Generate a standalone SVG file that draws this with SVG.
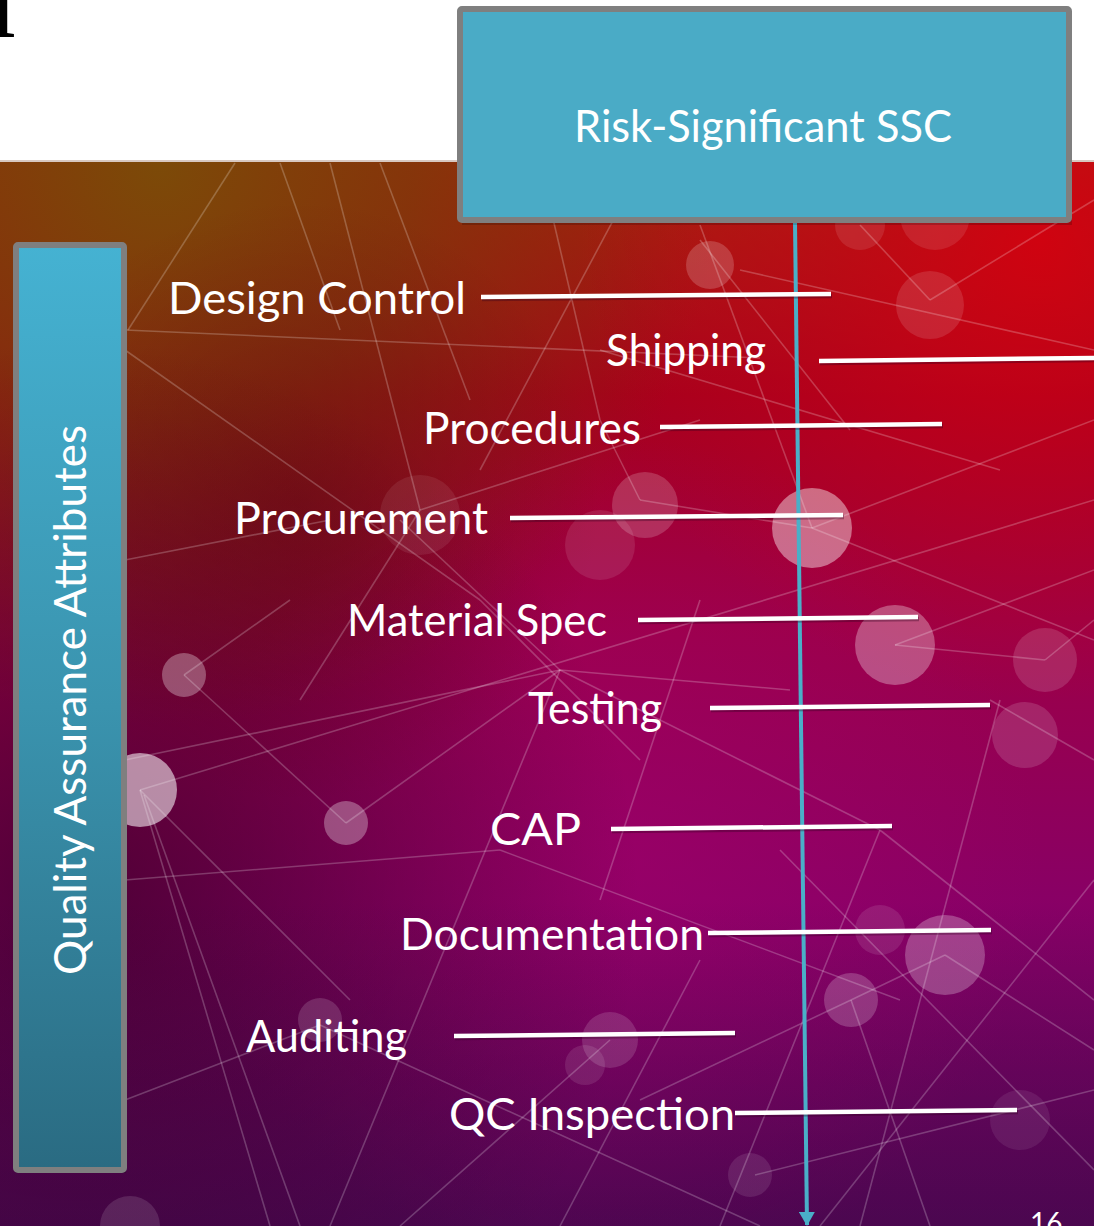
<svg xmlns="http://www.w3.org/2000/svg" width="1094" height="1226" viewBox="0 0 1094 1226">
  <defs>
    <linearGradient id="bgBase" x1="0" y1="161" x2="0" y2="1226" gradientUnits="userSpaceOnUse">
      <stop offset="0" stop-color="#a8280a"/>
      <stop offset="0.22" stop-color="#a8001c"/>
      <stop offset="0.45" stop-color="#9c0048"/>
      <stop offset="0.7" stop-color="#880066"/>
      <stop offset="1" stop-color="#5a0a5c"/>
    </linearGradient>
    <radialGradient id="glowBrown" cx="160" cy="165" r="560" gradientUnits="userSpaceOnUse">
      <stop offset="0" stop-color="#7c4a08" stop-opacity="1"/>
      <stop offset="0.45" stop-color="#7a3a0a" stop-opacity="0.75"/>
      <stop offset="1" stop-color="#7a2a0a" stop-opacity="0"/>
    </radialGradient>
    <radialGradient id="glowRed" cx="1040" cy="240" r="460" gradientUnits="userSpaceOnUse">
      <stop offset="0" stop-color="#d40010" stop-opacity="0.9"/>
      <stop offset="1" stop-color="#c00020" stop-opacity="0"/>
    </radialGradient>
    <radialGradient id="leftDark" cx="80" cy="900" r="560" gradientUnits="userSpaceOnUse">
      <stop offset="0" stop-color="#2a0018" stop-opacity="0.6"/>
      <stop offset="1" stop-color="#2a0018" stop-opacity="0"/>
    </radialGradient>
    <radialGradient id="midDark" cx="300" cy="500" r="300" gradientUnits="userSpaceOnUse">
      <stop offset="0" stop-color="#600010" stop-opacity="0.45"/>
      <stop offset="1" stop-color="#600010" stop-opacity="0"/>
    </radialGradient>
    <radialGradient id="glowMag" cx="620" cy="860" r="420" gradientUnits="userSpaceOnUse">
      <stop offset="0" stop-color="#a0006c" stop-opacity="0.55"/>
      <stop offset="1" stop-color="#a0006c" stop-opacity="0"/>
    </radialGradient>
    <linearGradient id="bottomDark" x1="0" y1="900" x2="0" y2="1226" gradientUnits="userSpaceOnUse">
      <stop offset="0" stop-color="#30003a" stop-opacity="0"/>
      <stop offset="1" stop-color="#30003a" stop-opacity="0.35"/>
    </linearGradient>
    <linearGradient id="sideBox" x1="0" y1="245" x2="0" y2="1170" gradientUnits="userSpaceOnUse">
      <stop offset="0" stop-color="#45b2d2"/>
      <stop offset="0.5" stop-color="#3a93ae"/>
      <stop offset="1" stop-color="#2a6b82"/>
    </linearGradient>
    <marker id="arrow" viewBox="0 0 14 16" refX="13" refY="8" markerWidth="14" markerHeight="16" markerUnits="userSpaceOnUse" orient="auto">
      <path d="M0,0 L14,8 L0,16 Z" fill="#4aafc8"/>
    </marker>
    <style>
      .lbl { font-family: Lato, "Open Sans", "Liberation Sans", sans-serif; font-size: 44px; fill: #ffffff; }
      .net line { stroke: #ffffff; stroke-opacity: 0.22; stroke-width: 1.6; }
      .net circle { fill: #ffffff; }
      .bar { stroke: #ffffff; stroke-width: 4.5; stroke-linecap: butt; }
      .barShadow { stroke: #300020; stroke-opacity: 0.35; stroke-width: 4.5; }
      .boxStroke { stroke: #7f7f7f; stroke-width: 6; }
    </style>
  </defs>

  <!-- page -->
  <rect x="0" y="0" width="1094" height="1226" fill="#ffffff"/>
  <text x="1" y="37" text-anchor="middle" font-family="'Liberation Serif', serif" font-weight="bold" font-size="80" fill="#000000">I</text>

  <!-- slide background -->
  <g id="background">
    <rect x="0" y="161" width="1094" height="1065" fill="url(#bgBase)"/>
    <rect x="0" y="161" width="1094" height="1065" fill="url(#glowBrown)"/>
    <rect x="0" y="161" width="1094" height="1065" fill="url(#glowRed)"/>
    <rect x="0" y="161" width="1094" height="1065" fill="url(#glowMag)"/>
    <rect x="0" y="161" width="1094" height="1065" fill="url(#midDark)"/>
    <rect x="0" y="161" width="1094" height="1065" fill="url(#leftDark)"/>
    <rect x="0" y="161" width="1094" height="1065" fill="url(#bottomDark)"/>
    <line x1="0" y1="161" x2="1094" y2="161" stroke="#d8c8c0" stroke-width="2"/>
    <g class="net">
      <line x1="125" y1="330" x2="760" y2="358"/>
      <line x1="125" y1="350" x2="480" y2="600"/>
      <line x1="480" y1="600" x2="640" y2="760"/>
      <line x1="235" y1="163" x2="128" y2="330"/>
      <line x1="280" y1="163" x2="340" y2="330"/>
      <line x1="330" y1="163" x2="420" y2="510"/>
      <line x1="420" y1="510" x2="700" y2="420"/>
      <line x1="420" y1="510" x2="300" y2="700"/>
      <line x1="540" y1="163" x2="600" y2="420"/>
      <line x1="600" y1="420" x2="640" y2="500"/>
      <line x1="640" y1="500" x2="812" y2="528"/>
      <line x1="812" y1="528" x2="1094" y2="420"/>
      <line x1="812" y1="528" x2="1094" y2="640"/>
      <line x1="812" y1="528" x2="700" y2="225"/>
      <line x1="700" y1="240" x2="850" y2="430"/>
      <line x1="930" y1="300" x2="1094" y2="200"/>
      <line x1="930" y1="300" x2="860" y2="225"/>
      <line x1="600" y1="350" x2="1000" y2="470"/>
      <line x1="140" y1="790" x2="1094" y2="500"/>
      <line x1="140" y1="790" x2="270" y2="1226"/>
      <line x1="144" y1="795" x2="300" y2="1226"/>
      <line x1="140" y1="790" x2="350" y2="1000"/>
      <line x1="184" y1="675" x2="290" y2="600"/>
      <line x1="184" y1="675" x2="346" y2="823"/>
      <line x1="346" y1="823" x2="560" y2="670"/>
      <line x1="560" y1="670" x2="790" y2="690"/>
      <line x1="560" y1="670" x2="400" y2="520"/>
      <line x1="560" y1="670" x2="880" y2="830"/>
      <line x1="560" y1="670" x2="330" y2="1226"/>
      <line x1="125" y1="760" x2="560" y2="670"/>
      <line x1="880" y1="830" x2="1094" y2="1000"/>
      <line x1="880" y1="830" x2="720" y2="1226"/>
      <line x1="895" y1="645" x2="1094" y2="570"/>
      <line x1="895" y1="645" x2="1045" y2="660"/>
      <line x1="1045" y1="660" x2="1094" y2="620"/>
      <line x1="945" y1="955" x2="1094" y2="1050"/>
      <line x1="945" y1="955" x2="851" y2="1000"/>
      <line x1="851" y1="1000" x2="930" y2="1226"/>
      <line x1="851" y1="1000" x2="640" y2="1100"/>
      <line x1="610" y1="1040" x2="400" y2="1226"/>
      <line x1="320" y1="1025" x2="125" y2="1100"/>
      <line x1="320" y1="1025" x2="760" y2="1226"/>
      <line x1="755" y1="1175" x2="1094" y2="1090"/>
      <line x1="500" y1="850" x2="900" y2="1000"/>
      <line x1="125" y1="880" x2="500" y2="850"/>
      <line x1="740" y1="270" x2="1094" y2="350"/>
      <line x1="640" y1="170" x2="480" y2="470"/>
      <line x1="1000" y1="700" x2="860" y2="1226"/>
      <line x1="990" y1="700" x2="1094" y2="760"/>
      <line x1="780" y1="850" x2="1094" y2="1170"/>
      <line x1="380" y1="163" x2="470" y2="400"/>
      <line x1="700" y1="600" x2="600" y2="900"/>
      <line x1="1094" y1="880" x2="820" y2="1226"/>
      <line x1="560" y1="1226" x2="700" y2="960"/>
      <line x1="125" y1="560" x2="330" y2="520"/>
      <circle cx="812" cy="528" r="40" fill-opacity="0.42"/>
      <circle cx="140" cy="790" r="37" fill-opacity="0.55"/>
      <circle cx="184" cy="675" r="22" fill-opacity="0.3"/>
      <circle cx="346" cy="823" r="22" fill-opacity="0.3"/>
      <circle cx="895" cy="645" r="40" fill-opacity="0.3"/>
      <circle cx="930" cy="305" r="34" fill-opacity="0.12"/>
      <circle cx="710" cy="265" r="24" fill-opacity="0.18"/>
      <circle cx="645" cy="505" r="33" fill-opacity="0.18"/>
      <circle cx="600" cy="545" r="35" fill-opacity="0.1"/>
      <circle cx="420" cy="515" r="40" fill-opacity="0.08"/>
      <circle cx="1045" cy="660" r="32" fill-opacity="0.14"/>
      <circle cx="1025" cy="735" r="33" fill-opacity="0.14"/>
      <circle cx="945" cy="955" r="40" fill-opacity="0.25"/>
      <circle cx="851" cy="1000" r="27" fill-opacity="0.2"/>
      <circle cx="320" cy="1020" r="22" fill-opacity="0.15"/>
      <circle cx="610" cy="1040" r="28" fill-opacity="0.14"/>
      <circle cx="130" cy="1226" r="30" fill-opacity="0.12"/>
      <circle cx="750" cy="1175" r="22" fill-opacity="0.1"/>
      <circle cx="880" cy="930" r="25" fill-opacity="0.1"/>
      <circle cx="1020" cy="1120" r="30" fill-opacity="0.08"/>
      <circle cx="935" cy="215" r="35" fill-opacity="0.1"/>
      <circle cx="860" cy="225" r="25" fill-opacity="0.1"/>
      <circle cx="585" cy="1065" r="20" fill-opacity="0.1"/>
    </g>
  </g>

  <!-- connectors -->
  <g id="connectors">
    <line x1="795" y1="223" x2="807" y2="1225" stroke="#4aafc8" stroke-width="4" marker-end="url(#arrow)"/>
    <g class="barShadows" transform="translate(1,2)">
      <line class="barShadow" x1="481" y1="297" x2="831" y2="294"/>
      <line class="barShadow" x1="819" y1="361" x2="1094" y2="358"/>
      <line class="barShadow" x1="660" y1="427" x2="942" y2="424"/>
      <line class="barShadow" x1="510" y1="518" x2="843" y2="515"/>
      <line class="barShadow" x1="638" y1="620" x2="918" y2="617"/>
      <line class="barShadow" x1="710" y1="708" x2="990" y2="705"/>
      <line class="barShadow" x1="611" y1="829" x2="892" y2="826"/>
      <line class="barShadow" x1="708" y1="933" x2="991" y2="930"/>
      <line class="barShadow" x1="454" y1="1036" x2="735" y2="1033"/>
      <line class="barShadow" x1="735" y1="1113" x2="1017" y2="1110"/>
    </g>
    <line id="c-design" class="bar" x1="481" y1="297" x2="831" y2="294"/>
    <line id="c-shipping" class="bar" x1="819" y1="361" x2="1094" y2="358"/>
    <line id="c-procedures" class="bar" x1="660" y1="427" x2="942" y2="424"/>
    <line id="c-procurement" class="bar" x1="510" y1="518" x2="843" y2="515"/>
    <line id="c-material" class="bar" x1="638" y1="620" x2="918" y2="617"/>
    <line id="c-testing" class="bar" x1="710" y1="708" x2="990" y2="705"/>
    <line id="c-cap" class="bar" x1="611" y1="829" x2="892" y2="826"/>
    <line id="c-documentation" class="bar" x1="708" y1="933" x2="991" y2="930"/>
    <line id="c-auditing" class="bar" x1="454" y1="1036" x2="735" y2="1033"/>
    <line id="c-qc" class="bar" x1="735" y1="1113" x2="1017" y2="1110"/>
  </g>

  <!-- top node -->
  <g id="node-ssc">
    <rect x="462" y="12" width="610" height="213" fill="#000000" fill-opacity="0.18"/>
    <rect x="460" y="9" width="609" height="211" rx="2" fill="#4aabc6" class="boxStroke"/>
    <text class="lbl" x="763" y="142" text-anchor="middle" textLength="378" lengthAdjust="spacingAndGlyphs">Risk-Significant SSC</text>
  </g>

  <!-- side node -->
  <g id="node-qa">
    <rect x="18" y="248" width="108" height="925" fill="#000000" fill-opacity="0.2"/>
    <rect x="16" y="245" width="108" height="925" rx="2" fill="url(#sideBox)" class="boxStroke"/>
    <text class="lbl" transform="translate(86,700) rotate(-90)" x="0" y="0" text-anchor="middle" textLength="550" lengthAdjust="spacingAndGlyphs">Quality Assurance Attributes</text>
  </g>

  <!-- attribute labels -->
  <g id="node-design"><text class="lbl" x="168" y="314" textLength="298" lengthAdjust="spacingAndGlyphs">Design Control</text></g>
  <g id="node-shipping"><text class="lbl" x="606" y="366" textLength="160" lengthAdjust="spacingAndGlyphs">Shipping</text></g>
  <g id="node-procedures"><text class="lbl" x="423" y="444" textLength="218" lengthAdjust="spacingAndGlyphs">Procedures</text></g>
  <g id="node-procurement"><text class="lbl" x="234" y="534" textLength="254" lengthAdjust="spacingAndGlyphs">Procurement</text></g>
  <g id="node-material"><text class="lbl" x="347" y="636" textLength="260" lengthAdjust="spacingAndGlyphs">Material Spec</text></g>
  <g id="node-testing"><text class="lbl" x="528" y="724" textLength="134" lengthAdjust="spacingAndGlyphs">Testing</text></g>
  <g id="node-cap"><text class="lbl" x="490" y="845" textLength="91" lengthAdjust="spacingAndGlyphs">CAP</text></g>
  <g id="node-documentation"><text class="lbl" x="400" y="950" textLength="304" lengthAdjust="spacingAndGlyphs">Documentation</text></g>
  <g id="node-auditing"><text class="lbl" x="246" y="1052" textLength="161" lengthAdjust="spacingAndGlyphs">Auditing</text></g>
  <g id="node-qc"><text class="lbl" x="449" y="1130" textLength="286" lengthAdjust="spacingAndGlyphs">QC Inspection</text></g>

  <text x="1030" y="1233" font-family="Lato, 'Open Sans', 'Liberation Sans', sans-serif" font-size="28" fill="#ffffff">16</text>
</svg>
